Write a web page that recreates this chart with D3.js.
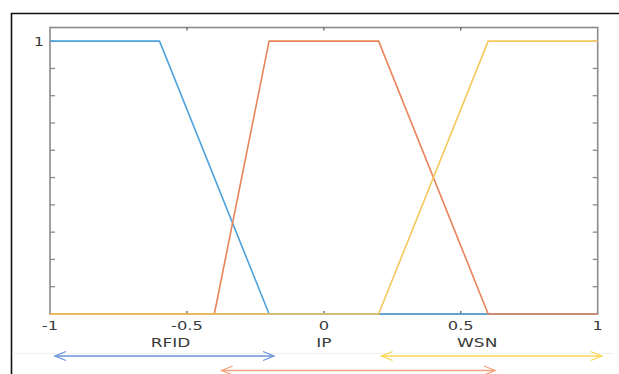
<!DOCTYPE html>
<html>
<head>
<meta charset="utf-8">
<script src="https://cdn.jsdelivr.net/npm/d3@7"></script>
<style>
  html, body { margin: 0; padding: 0; background: #fff; }
  svg { display: block; }
  text { font-family: "DejaVu Sans", sans-serif; fill: #3a3a3a; }
</style>
</head>
<body>
<svg id="chart" width="619" height="374"></svg>
<script>
// Membership functions (trapezoids) for the three technologies
const categories = ["RFID", "IP", "WSN"];
const rfidX = [-1, -0.6, -0.2, 1];
const rfidY = [1, 1, 0, 0];
const ipX = [-1, -0.4, -0.2, 0.2, 0.6, 1];
const ipY = [0, 0, 1, 1, 0, 0];
const wsnX = [-1, 0.2, 0.6, 1];
const wsnY = [0, 0, 1, 1];
const xTickValues = [-1, -0.5, 0, 0.5, 1];
const xTickLabels = ["-1", "-0.5", "0", "0.5", "1"];
const yTickValues = [0.1, 0.2, 0.3, 0.4, 0.5, 0.6, 0.7, 0.8, 0.9, 1];
const yTickLabels = ["1"];
const labelPos = [-0.56, 0, 0.56];
// Range arrows below the axis: [start, end] in x units
const arrowStart = [-0.982, -0.373, 0.211];
const arrowEnd = [-0.182, 0.625, 1.015];

const lineColors = ["#4fa2dc", "#e9845a", "#f3c85c"];
const arrowColors = ["#6b93dc", "#f4a27e", "#fbd655"];
const axisColor = "#8a8a8a";
const stretch = 1.36;

const svg = d3.select("#chart");
const plotLeft = 50, plotRight = 597.7, plotTop = 27.5, plotBottom = 314;

const x = d3.scaleLinear().domain([-1, 1]).range([plotLeft, plotRight]);
const y = d3.scaleLinear().domain([0, 1.05]).range([plotBottom, plotTop]);

// outer frame
svg.append("path")
  .attr("d", `M11.5,380 V13.5 H625`)
  .attr("fill", "none").attr("stroke", "#111").attr("stroke-width", 1.6);

// faint separator under the labels
svg.append("line")
  .attr("x1", 12).attr("x2", 614).attr("y1", 353.5).attr("y2", 353.5)
  .attr("stroke", "#f0f0f0").attr("stroke-width", 1);

// axis box
svg.append("rect")
  .attr("x", plotLeft).attr("y", plotTop)
  .attr("width", plotRight - plotLeft).attr("height", plotBottom - plotTop)
  .attr("fill", "none").attr("stroke", axisColor).attr("stroke-width", 1.6);

// y ticks on left and right, pointing inward
const g = svg.append("g");
g.selectAll(".yl").data(yTickValues).join("line")
  .attr("x1", plotLeft).attr("x2", plotLeft + 5)
  .attr("y1", d => y(d)).attr("y2", d => y(d))
  .attr("stroke", axisColor).attr("stroke-width", 1.3);
g.selectAll(".yr").data(yTickValues).join("line")
  .attr("x1", plotRight).attr("x2", plotRight - 5)
  .attr("y1", d => y(d)).attr("y2", d => y(d))
  .attr("stroke", axisColor).attr("stroke-width", 1.3);
// x ticks top and bottom
const innerX = xTickValues.slice(1, -1);
g.selectAll(".xt").data(innerX).join("line")
  .attr("x1", d => x(d)).attr("x2", d => x(d))
  .attr("y1", plotTop).attr("y2", plotTop + 3)
  .attr("stroke", "#555").attr("stroke-width", 1.2);
g.selectAll(".xb").data(innerX).join("line")
  .attr("x1", d => x(d)).attr("x2", d => x(d))
  .attr("y1", plotBottom).attr("y2", plotBottom - 3)
  .attr("stroke", "#555").attr("stroke-width", 1.2);

// membership curves
const series = [
  { xs: rfidX, ys: rfidY },
  { xs: ipX, ys: ipY },
  { xs: wsnX, ys: wsnY }
];
const line = d3.line().x(d => x(d[0])).y(d => y(d[1]));
series.forEach((s, i) => {
  svg.append("path")
    .attr("d", line(d3.zip(s.xs, s.ys)))
    .attr("fill", "none")
    .attr("stroke", lineColors[i])
    .attr("stroke-width", 1.6)
    .attr("stroke-linejoin", "round");
});

// tick labels
svg.selectAll(".xl").data(xTickValues).join("text")
  .attr("transform", d => `translate(${x(d)},330) scale(${stretch},1)`)
  .attr("text-anchor", "middle")
  .attr("font-size", 12)
  .text((d, i) => xTickLabels[i]);
svg.selectAll(".ylab").data(yTickLabels).join("text")
  .attr("transform", d => `translate(39,46) scale(${stretch},1)`)
  .attr("text-anchor", "middle")
  .attr("font-size", 12)
  .text(d => d);

// category labels
svg.selectAll(".cat").data(categories).join("text")
  .attr("transform", (d, i) => `translate(${x(labelPos[i])},347) scale(${stretch},1)`)
  .attr("text-anchor", "middle")
  .attr("font-size", 12.5)
  .text(d => d);

// double-headed range arrows
const arrowY = [356, 370.5, 356];
categories.forEach((c, i) => {
  const x0 = x(arrowStart[i]), x1 = x(arrowEnd[i]), yy = arrowY[i];
  const ag = svg.append("g")
    .attr("fill", "none").attr("stroke", arrowColors[i]).attr("stroke-width", 1.3);
  ag.append("line").attr("x1", x0).attr("x2", x1).attr("y1", yy).attr("y2", yy);
  ag.append("path").attr("d", `M${x0 + 11},${yy - 4.5} L${x0},${yy} L${x0 + 11},${yy + 4.5}`);
  ag.append("path").attr("d", `M${x1 - 11},${yy - 4.5} L${x1},${yy} L${x1 - 11},${yy + 4.5}`);
});
</script>
</body>
</html>
